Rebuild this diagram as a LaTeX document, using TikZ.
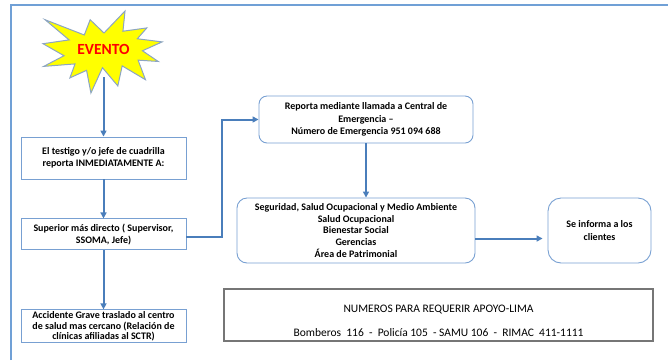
\documentclass[tikz,border=0pt]{standalone}
\usepackage{fontspec}
\setmainfont{Carlito}
\usetikzlibrary{arrows.meta, positioning}

\definecolor{marcoazul}{RGB}{112,160,214}
\definecolor{bordeazul}{RGB}{120,160,210}
\definecolor{flechaazul}{RGB}{74,126,187}
\definecolor{amarillo}{RGB}{255,255,0}
\definecolor{bordeestrella}{RGB}{140,165,195}
\definecolor{grisborde}{RGB}{118,118,118}

\begin{document}
\begin{tikzpicture}[x=1pt, y=-1pt,
    caja/.style={rectangle, draw=bordeazul, line width=0.9pt, align=center,
                 minimum width=165pt, inner sep=1pt,
                 font=\fontsize{10}{11.6}\selectfont\bfseries},
    cajaredonda/.style={caja, rounded corners=8pt},
    flecha/.style={-{Triangle[length=6pt,width=6pt]}, line width=2pt, draw=flechaazul},
    node distance=39pt
]

\useasboundingbox (0,0) rectangle (668,360);
\draw[marcoazul, line width=2pt] (11,360) -- (11,5) -- (668,5);

% explosion
\begin{scope}[shift={(43,11)}, x=1.22pt, y=-0.82pt]
\draw[fill=amarillo, draw=bordeestrella, line width=1pt]
    (50,26.85) -- (67.23,0) -- (65.53,24.65) -- (85.09,20.63) -- (77.32,33.87)
    -- (97.67,37.67) -- (81.51,48.50) -- (94.44,61.53) -- (77.95,59.92)
    -- (84.00,83.77) -- (64.91,66.93) -- (61.33,91.38) -- (48.76,69.14)
    -- (39.28,100) -- (35.72,72.35) -- (22.05,81.56) -- (26.24,64.52)
    -- (0.63,67.53) -- (17.23,54.51) -- (0,39.88) -- (21.42,35.26)
    -- (1.71,10.63) -- (33.85,29.26) -- (38.67,10.63) -- cycle;
\end{scope}
\node[text=red, minimum height=56pt, font=\fontsize{15.5}{18}\selectfont\bfseries] (evento) at (103.5,49) {EVENTO};

% columna izquierda
\node[caja, minimum height=42pt] (testigo) at (103.5,158) {El testigo y/o jefe de cuadrilla\\reporta INMEDIATAMENTE A:};
\node[caja, minimum height=31pt, below=39pt of testigo] (superior) {Superior más directo ( Supervisor,\\SSOMA, Jefe)};
\node[caja, minimum height=33pt, inner ysep=0pt, below=59pt of superior,
      font=\fontsize{10}{10.6}\selectfont\bfseries] (accidente) {Accidente Grave traslado al centro\\de salud mas cercano (Relación de\\clínicas afiliadas al SCTR)};

% derecha
\node[cajaredonda, minimum width=214pt, minimum height=47pt, font=\fontsize{10}{12.4}\selectfont\bfseries] (reporta) at (366,119.5) {Reporta mediante llamada a Central de\\Emergencia --\\Número de Emergencia 951 094 688};
\node[cajaredonda, rounded corners=10pt, minimum width=238pt, minimum height=65pt] (seguridad) at (356,230.5) {Seguridad, Salud Ocupacional y Medio Ambiente\\Salud Ocupacional\\Bienestar Social\\Gerencias\\Área de Patrimonial};
\node[cajaredonda, rounded corners=13pt, minimum width=103pt, minimum height=65pt, font=\fontsize{10}{13}\selectfont\bfseries] (informa) at (599.5,230.5) {Se informa a los\\clientes};

\node[draw=grisborde, line width=1.6pt, minimum width=429pt, minimum height=52pt, inner sep=0pt, align=center,
      font=\fontsize{11.5}{13}\selectfont] (numeros) at (438.5,315)
    {\rule{0pt}{23.5pt}NUMEROS PARA REQUERIR APOYO-LIMA\\[11pt]
     Bomberos~~116~~-~~Policía 105~~-~SAMU 106~~-~~RIMAC~~411-1111\rule[-4pt]{0pt}{4pt}};

\draw[flecha] (evento) -- (testigo);
\draw[flecha] (testigo) -- (superior);
\draw[flecha] (superior) -- (accidente);
\draw[flecha] ([yshift=-3pt]superior.east) -- ++(36,0) |- (reporta.west);
\draw[flecha] (reporta.south) -- (reporta.south |- seguridad.north);
\draw[flecha, shorten >=5pt] ([yshift=-8pt]seguridad.east) -- ([yshift=-8pt]informa.west);

\end{tikzpicture}
\end{document}
